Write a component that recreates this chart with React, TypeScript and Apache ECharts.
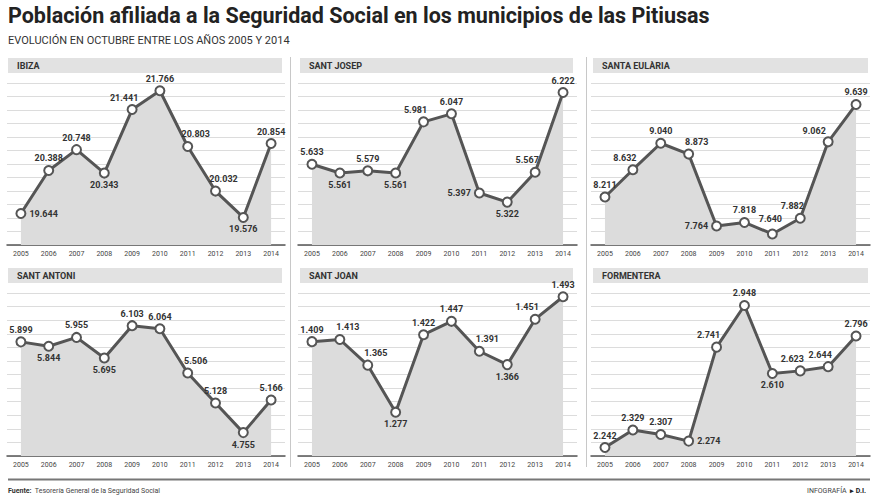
import React, { useEffect, useRef } from "react";
import * as echarts from "echarts";

const years = ["2005", "2006", "2007", "2008", "2009", "2010", "2011", "2012", "2013", "2014"];

const ibiza = [19644, 20388, 20748, 20343, 21441, 21766, 20803, 20032, 19576, 20854];
const santJosep = [5633, 5561, 5579, 5561, 5981, 6047, 5397, 5322, 5567, 6222];
const santaEularia = [8211, 8632, 9040, 8873, 7764, 7818, 7640, 7882, 9062, 9639];
const santAntoni = [5899, 5844, 5955, 5695, 6103, 6064, 5506, 5128, 4755, 5166];
const santJoan = [1409, 1413, 1365, 1277, 1422, 1447, 1391, 1366, 1451, 1493];
const formentera = [2242, 2329, 2307, 2274, 2741, 2948, 2610, 2623, 2644, 2796];

const panelNames = ["IBIZA", "SANT JOSEP", "SANTA EULÀRIA", "SANT ANTONI", "SANT JOAN", "FORMENTERA"];
const panelData = [ibiza, santJosep, santaEularia, santAntoni, santJoan, formentera];

// label placement per point (t top, b bottom, l left, r right, tl/tr top-left/right, tll far top-left, th high top)
const ibizaPos = ["r", "t", "t", "b", "tl", "t", "tr", "tr", "b", "t"];
const josepPos = ["t", "b", "t", "b", "tl", "t", "l", "b", "tl", "t"];
const eulariaPos = ["t", "tl", "t", "tr", "l", "t", "th", "tl", "tll", "t"];
const antoniPos = ["t", "b", "t", "b", "t", "t", "tr", "t", "b", "t"];
const joanPos = ["t", "tr", "tr", "b", "t", "t", "tr", "b", "tl", "t"];
const formPos = ["t", "t", "t", "r", "tl", "t", "b", "tl", "tl", "t"];
const panelPos = [ibizaPos, josepPos, eulariaPos, antoniPos, joanPos, formPos];

// y-axis ranges per panel
const yMins = [19100, 4970, 7470, 4460, 1195, 2200];
const yMaxs = [21900, 6300, 9970, 6515, 1500, 3010];

const fmt = (v: number) => `${Math.floor(v / 1000)}.${String(v % 1000).padStart(3, "0")}`;

const FONT = "'Roboto', sans-serif";
const colLeft = [7, 298, 591];
const colWidth = [278, 279, 279];
const headerX = [8, 300, 593];
const headerW = [274, 273, 275];
const rowTop = [83, 293];
const rowH = [162, 163];
const headerY = [58, 268];

export default function App() {
  const ref = useRef<HTMLDivElement>(null);
  useEffect(() => {
    document.body.style.margin = "0";
    const chart = echarts.init(ref.current!, undefined, { renderer: "svg" });
    const grids: any[] = [];
    const xAxes: any[] = [];
    const yAxes: any[] = [];
    const series: any[] = [];
    const graphics: any[] = [];

    panelData.forEach((data, i) => {
      const col = i % 3;
      const row = Math.floor(i / 3);
      grids.push({ left: colLeft[col], top: rowTop[row], width: colWidth[col], height: rowH[row] });
      xAxes.push({
        type: "category",
        gridIndex: i,
        data: years,
        boundaryGap: true,
        axisLine: { lineStyle: { color: "#555", width: 1.5 } },
        axisTick: { show: false },
        axisLabel: { fontSize: 7, color: "#444", margin: 5, fontFamily: FONT, interval: 0 },
        splitLine: { show: false },
      });
      yAxes.push({
        type: "value",
        gridIndex: i,
        min: yMins[i],
        max: yMaxs[i],
        axisLine: { show: false },
        axisTick: { show: false },
        axisLabel: { show: false },
        splitLine: { show: false },
      });
      yAxes.push({
        type: "value",
        gridIndex: i,
        min: 0,
        max: 12,
        interval: 1,
        position: "right",
        axisLine: { show: false },
        axisTick: { show: false },
        axisLabel: { show: false },
        splitLine: { show: true, lineStyle: { color: "#dcdcdc", width: 1 } },
      });
      const pos = panelPos[i];
      series.push({
        type: "line",
        xAxisIndex: i,
        yAxisIndex: i * 2,
        data: data.map((v, k) => {
          const p = pos[k];
          let label: any = { position: "top", distance: 2 };
          if (p === "b") label = { position: "bottom", distance: 2 };
          else if (p === "l") label = { position: "left", distance: 3 };
          else if (p === "r") label = { position: "right", distance: 3 };
          else if (p === "tl") label = { position: "top", distance: 2, offset: [-8, 0] };
          else if (p === "tll") label = { position: "top", distance: 1, offset: [-14, 0] };
          else if (p === "th") label = { position: "top", distance: 5, offset: [-2, 0] };
          else if (p === "tr") label = { position: "top", distance: 2, offset: [8, 0] };
          return { value: v, label };
        }),
        symbol: "circle",
        symbolSize: 9,
        showAllSymbol: true,
        itemStyle: { color: "#fff", borderColor: "#555", borderWidth: 2 },
        lineStyle: { color: "#555", width: 3 },
        areaStyle: { color: "#dcdcdc", opacity: 1, origin: "start" },
        label: {
          show: true,
          formatter: (p: any) => fmt(p.value),
          fontSize: 9,
          fontWeight: "bold",
          color: "#333",
          fontFamily: FONT,
        },
        z: 3,
      });
      graphics.push({
        type: "rect",
        shape: { x: headerX[col], y: headerY[row], width: headerW[col], height: 15 },
        style: { fill: "#e2e2e2" },
      });
      graphics.push({
        type: "text",
        x: headerX[col] + 9,
        y: headerY[row] + 7.5,
        style: {
          text: panelNames[i],
          font: `bold 9px ${FONT}`,
          fill: "#333",
          verticalAlign: "middle",
        },
      });
    });

    graphics.push(
      {
        type: "text",
        x: 8,
        y: 15,
        style: {
          text: "Población afiliada a la Seguridad Social en los municipios de las Pitiusas",
          font: `bold 21.5px ${FONT}`,
          fill: "#222",
          verticalAlign: "middle",
        },
      },
      {
        type: "text",
        x: 8,
        y: 40,
        style: {
          text: "EVOLUCIÓN EN OCTUBRE ENTRE LOS AÑOS 2005 Y 2014",
          font: `11px ${FONT}`,
          fill: "#333",
          verticalAlign: "middle",
        },
      },
      { type: "line", shape: { x1: 290.5, y1: 57, x2: 290.5, y2: 467 }, style: { stroke: "#c8c8c8", lineWidth: 1 } },
      { type: "line", shape: { x1: 586.5, y1: 57, x2: 586.5, y2: 467 }, style: { stroke: "#c8c8c8", lineWidth: 1 } },
      { type: "line", shape: { x1: 8, y1: 479.5, x2: 870, y2: 479.5 }, style: { stroke: "#777", lineWidth: 2 } },
      {
        type: "text",
        x: 8,
        y: 491,
        style: {
          rich: {
            b: { font: `bold 7px ${FONT}`, fill: "#333" },
            n: { font: `7px ${FONT}`, fill: "#444" },
          },
          text: "{b|Fuente:} {n|Tesorería General de la Seguridad Social}",
          verticalAlign: "middle",
        },
      },
      {
        type: "text",
        x: 866,
        y: 491,
        style: {
          rich: {
            n: { font: `7px ${FONT}`, fill: "#444" },
            b: { font: `bold 7px ${FONT}`, fill: "#222" },
          },
          text: "{n|INFOGRAFÍA} {b|▸ D.I.}",
          align: "right",
          verticalAlign: "middle",
        },
      }
    );

    chart.setOption({
      animation: false,
      backgroundColor: "#fff",
      grid: grids,
      xAxis: xAxes,
      yAxis: yAxes,
      series,
      graphic: graphics,
    });
    return () => chart.dispose();
  }, []);
  return <div ref={ref} style={{ width: 880, height: 495 }} />;
}
